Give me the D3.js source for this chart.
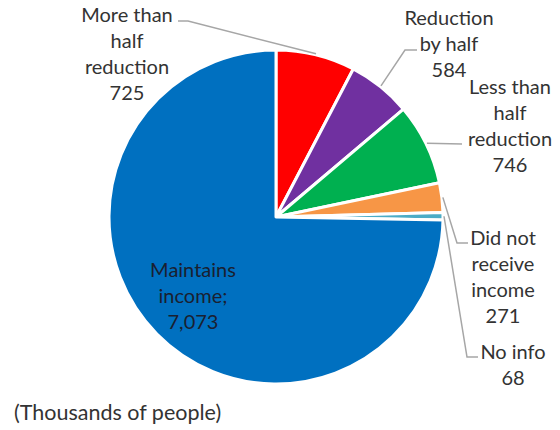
<!DOCTYPE html>
<html>
<head>
<meta charset="utf-8">
<script src="https://cdn.jsdelivr.net/npm/d3@7"></script>
<style>
  body { margin: 0; background: #fff; }
  text { font-family: Lato, "Open Sans", sans-serif; }
</style>
</head>
<body>
<svg id="chart" width="560" height="430"></svg>
<script>
// slices, clockwise from 12 o'clock
const categories = ["More than half reduction", "Reduction by half", "Less than half reduction",
                    "Did not receive income", "No info", "Maintains income"];
const values = [725, 584, 746, 271, 68, 7073];
const labelLines = [
  ["More than", "half", "reduction", "725"],
  ["Reduction", "by half", "584"],
  ["Less than", "half", "reduction", "746"],
  ["Did not", "receive", "income", "271"],
  ["No info", "68"],
  ["Maintains", "income;", "7,073"]
];
const colors = ["#FF0000", "#7030A0", "#00B050", "#F79646", "#4BACC6", "#0070C0"];

// label layout: text centre x, first line centre y, and leader elbow / end points
const layout = [
  {x: 127, y: 15, elbow: [188, 21], end: [178, 21]},
  {x: 449, y: 18, elbow: [405, 50], end: [417, 50]},
  {x: 510, y: 87, elbow: null, end: [462, 144]},
  {x: 503, y: 238, elbow: [457, 243], end: [468, 243]},
  {x: 513, y: 352, elbow: [467, 357], end: [478, 357]},
  {x: 193, y: 270, inside: true}
];

const cx = 276, cy = 217, radius = 167, lineH = 26;

const svg = d3.select("#chart");
const g = svg.append("g").attr("transform", `translate(${cx},${cy})`);

const pie = d3.pie().sort(null).value(d => d);
const arcs = pie(values);
const arc = d3.arc().innerRadius(0).outerRadius(radius);
const edge = d3.arc().innerRadius(radius + 1).outerRadius(radius + 1);

g.selectAll("path.slice")
    .data(arcs)
  .enter().append("path")
    .attr("class", "slice")
    .attr("d", arc)
    .attr("fill", (d, i) => colors[i])
    .attr("stroke", "#fff")
    .attr("stroke-width", 3)
    .attr("stroke-linejoin", "round");

// leader lines (absolute coords for elbows)
arcs.forEach((d, i) => {
  let L = layout[i];
  if (L.inside) return;
  let p = edge.centroid(d);
  let pts = [[p[0] + cx, p[1] + cy]];
  if (L.elbow) pts.push(L.elbow);
  pts.push(L.end);
  svg.append("path")
    .attr("d", d3.line()(pts))
    .attr("fill", "none")
    .attr("stroke", "#A6A6A6")
    .attr("stroke-width", 1.5);
});

// labels
arcs.forEach((d, i) => {
  let L = layout[i];
  let t = svg.append("text")
    .attr("text-anchor", "middle")
    .attr("font-size", 20)
    .attr("fill", L.inside ? "#1a2030" : "#333");
  labelLines[i].forEach((s, k) => {
    t.append("tspan")
      .attr("x", L.x)
      .attr("y", L.y + k * lineH)
      .attr("dy", "0.35em")
      .text(s);
  });
});

svg.append("text")
  .attr("x", 14)
  .attr("y", 412)
  .attr("dy", "0.35em")
  .attr("font-size", 21.5)
  .attr("fill", "#333")
  .text("(Thousands of people)");
</script>
</body>
</html>
